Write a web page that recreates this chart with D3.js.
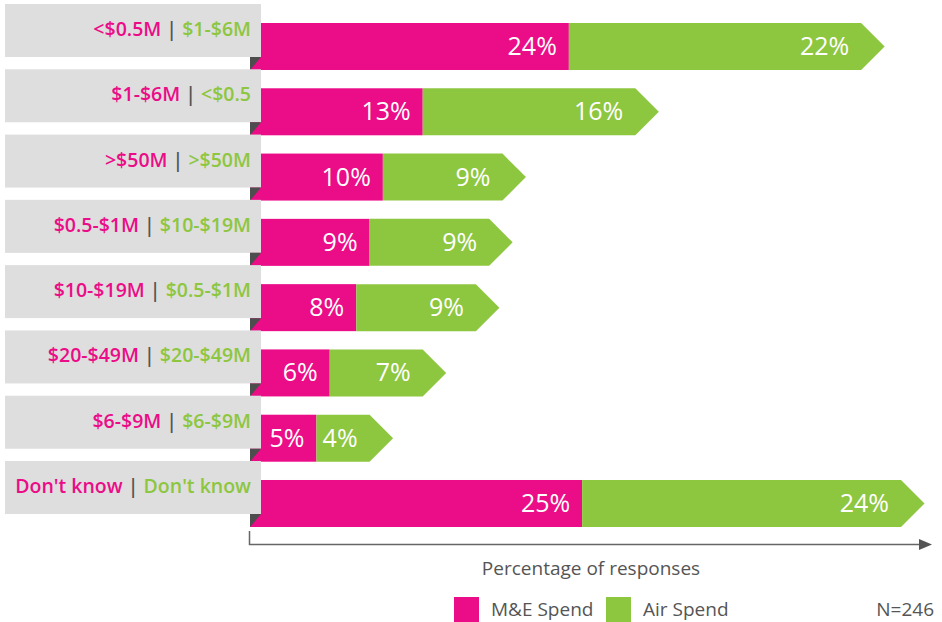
<!DOCTYPE html>
<html>
<head>
<meta charset="utf-8">
<script src="https://cdn.jsdelivr.net/npm/d3@7"></script>
<style>
    body { margin:0; background:#fff; }
    svg { font-family:"Open Sans", sans-serif; }
</style>
</head>
<body>
<svg></svg>
<script>

//row labels, M&E part and Air part
var meLabels  = ["<$0.5M","$1-$6M",">$50M","$0.5-$1M","$10-$19M","$20-$49M","$6-$9M","Don't know"]
var airLabels = ["$1-$6M","<$0.5",">$50M","$10-$19M","$0.5-$1M","$20-$49M","$6-$9M","Don't know"]

//percentages of responses
var meValues  = [24,13,10,9,8,6,5,25]
var airValues = [22,16,9,9,9,7,4,24]

var pink = "#EB0C87"
var green = "#8DC63F"

var screen = {width:942,height:622}
var margins = {left:250,top:23}

var svg = d3.select("svg")
    .attr("width",screen.width)
    .attr("height",screen.height)

var rows = d3.range(meValues.length)

//row scale
var yScale = d3.scaleBand()
    .domain(rows)
    .range([margins.top, 527])
    .paddingInner(0.28)
    .paddingOuter(0)

//value scale
var xScale = d3.scaleLinear()
    .domain([0,49])
    .range([margins.left, 901])

var bh = yScale.bandwidth()

//bars
var bars = svg.append("g")
    .selectAll("g")
    .data(rows)
    .enter()
    .append("g")

//M&E part
bars.append("rect")
    .attr("x",xScale(0))
    .attr("y",function(i){return yScale(i);})
    .attr("width",function(i){return xScale(meValues[i])-xScale(0);})
    .attr("height",bh)
    .attr("fill",pink)

//Air part, with arrow tip
bars.append("path")
    .attr("fill",green)
    .attr("d",function(i)
    {
        var x0 = xScale(meValues[i])
        var x1 = xScale(meValues[i]+airValues[i])
        var y0 = yScale(i)
        return "M"+x0+","+y0+"L"+x1+","+y0+"L"+(x1+bh/2)+","+(y0+bh/2)+
               "L"+x1+","+(y0+bh)+"L"+x0+","+(y0+bh)+"Z"
    })

//value labels
bars.append("text")
    .attr("x",function(i){return xScale(meValues[i])-12;})
    .attr("y",function(i){return yScale(i)+32;})
    .attr("text-anchor","end")
    .attr("fill","#fff")
    .attr("font-size",25)
    .text(function(i){return meValues[i]+"%";})

bars.append("text")
    .attr("x",function(i){return xScale(meValues[i]+airValues[i])-12;})
    .attr("y",function(i){return yScale(i)+32;})
    .attr("text-anchor","end")
    .attr("fill","#fff")
    .attr("font-size",25)
    .text(function(i){return airValues[i]+"%";})

//grey label boxes, on top of the bar start
var labels = svg.append("g")
    .selectAll("g")
    .data(rows)
    .enter()
    .append("g")
    .attr("transform",function(i){return "translate(0,"+(yScale(i)-19)+")";})

labels.append("rect")
    .attr("x",5)
    .attr("y",0)
    .attr("width",256)
    .attr("height",53)
    .attr("fill","#DEDEDE")

//fold under the label box
labels.append("path")
    .attr("fill","#4D4D4D")
    .attr("d","M250,53L261,53L250,"+(bh+19)+"Z")

var lt = labels.append("text")
    .attr("x",251)
    .attr("y",32)
    .attr("text-anchor","end")
    .attr("font-size",19.5)
    .attr("font-weight",600)

lt.append("tspan").attr("fill",pink).text(function(i){return meLabels[i];})
lt.append("tspan").attr("fill","#555").text(" | ")
lt.append("tspan").attr("fill",green).text(function(i){return airLabels[i];})

//axis line with arrow
var axis = svg.append("g")
axis.append("path")
    .attr("d","M249.5,531L249.5,544.5L925,544.5")
    .attr("fill","none")
    .attr("stroke","#666")
    .attr("stroke-width",1.5)
axis.append("path")
    .attr("d","M919,539L932,544.5L919,550Z")
    .attr("fill","#555")

svg.append("text")
    .attr("x",591)
    .attr("y",575)
    .attr("text-anchor","middle")
    .attr("font-size",19)
    .attr("fill","#555")
    .text("Percentage of responses")

//legend
var legendData = [
    {name:"M&E Spend",color:pink,x:454},
    {name:"Air Spend",color:green,x:606}
]
var legend = svg.append("g")
    .selectAll("g")
    .data(legendData)
    .enter()
    .append("g")
    .attr("transform",function(d){return "translate("+d.x+",597)";})

legend.append("rect")
    .attr("width",25)
    .attr("height",25)
    .attr("fill",function(d){return d.color;})

legend.append("text")
    .attr("x",37)
    .attr("y",19)
    .attr("font-size",19)
    .attr("fill","#555")
    .text(function(d){return d.name;})

svg.append("text")
    .attr("x",934)
    .attr("y",616)
    .attr("text-anchor","end")
    .attr("font-size",19)
    .attr("fill","#555")
    .text("N=246")

</script>
</body>
</html>
